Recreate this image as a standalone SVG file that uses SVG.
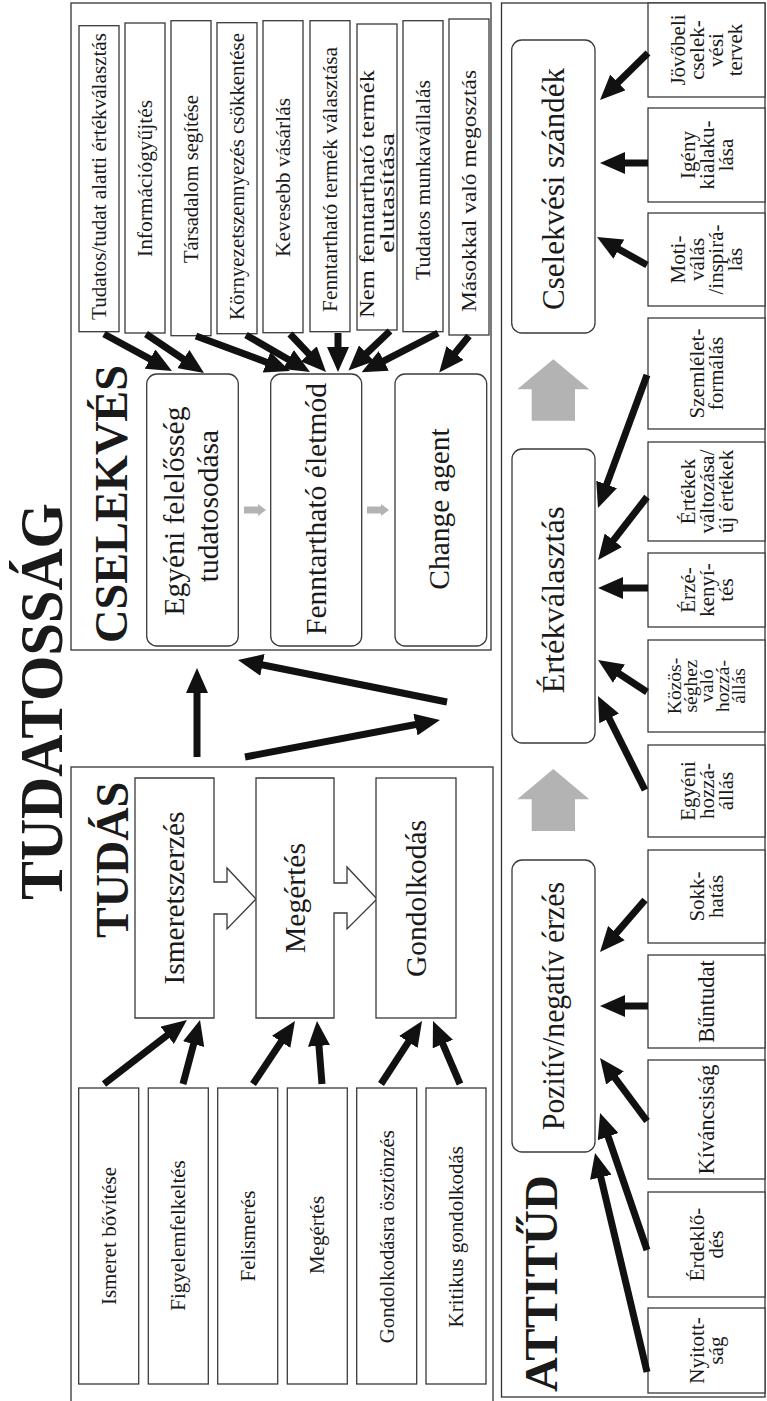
<svg xmlns="http://www.w3.org/2000/svg" width="767" height="1401" viewBox="0 0 767 1401">
<defs>
<marker id="ah" markerUnits="userSpaceOnUse" viewBox="0 0 25 22" markerWidth="25" markerHeight="22" refX="7" refY="11" orient="auto"><path d="M0,0 L25,11 L0,22 Z" fill="#111"/></marker>
</defs>
<style>
.panel{fill:none;stroke:#333;stroke-width:1.3}
.box{fill:#fff;stroke:#3a3a3a;stroke-width:1.3}
text{font-family:"Liberation Serif","Times New Roman",serif;fill:#1a1a1a;text-anchor:middle}
.s{font-size:21px}
.r{font-size:21px}
.r5{font-size:19.5px}
.m{font-size:29.5px}
.b{font-size:31px}
.h{font-size:47px;font-weight:bold}
.t{font-size:62px;font-weight:bold}
.arr line{stroke:#111;stroke-width:7;marker-end:url(#ah)}
.gray{fill:#b3b3b3}
</style>
<rect x="0" y="0" width="767" height="1401" fill="#fff"/>

<g id="title"><text class="t" transform="translate(62,701.5) rotate(-90)" textLength="397" lengthAdjust="spacingAndGlyphs">TUDATOSSÁG</text></g>

<g id="panels">
<rect class="panel" x="71" y="3" width="420" height="647"/>
<rect class="panel" x="71" y="767" width="422" height="640"/>
<rect class="panel" x="501.5" y="3" width="263.5" height="1394"/>
</g>

<g id="cselekves">
<text class="h" transform="translate(127,504) rotate(-90)" textLength="278" lengthAdjust="spacingAndGlyphs">CSELEKVÉS</text>
<g id="c1"><rect class="box" x="79" y="25.7" width="40" height="306"/><text class="s" transform="translate(105.7,176.5) rotate(-90)" textLength="287" lengthAdjust="spacingAndGlyphs">Tudatos/tudat alatti értékválasztás</text></g>
<g id="c2"><rect class="box" x="125" y="23" width="40" height="310"/><text class="s" transform="translate(152,178.5) rotate(-90)" textLength="157" lengthAdjust="spacingAndGlyphs">Információgyűjtés</text></g>
<g id="c3"><rect class="box" x="171" y="20.7" width="40" height="315"/><text class="s" transform="translate(198,179) rotate(-90)" textLength="168" lengthAdjust="spacingAndGlyphs">Társadalom segítése</text></g>
<g id="c4"><rect class="box" x="217" y="22.7" width="40" height="311"/><text class="s" transform="translate(244,176.5) rotate(-90)" textLength="287" lengthAdjust="spacingAndGlyphs">Környezetszennyezés csökkentése</text></g>
<g id="c5"><rect class="box" x="263" y="20.7" width="40" height="312"/><text class="s" transform="translate(290,177.5) rotate(-90)" textLength="159" lengthAdjust="spacingAndGlyphs">Kevesebb vásárlás</text></g>
<g id="c6"><rect class="box" x="310" y="20.7" width="40" height="311"/><text class="s" transform="translate(337,179.5) rotate(-90)" textLength="265" lengthAdjust="spacingAndGlyphs">Fenntartható termék választása</text></g>
<g id="c7"><rect class="box" x="357" y="24" width="40" height="306"/><text class="s" transform="translate(373.5,194) rotate(-90)" textLength="248" lengthAdjust="spacingAndGlyphs">Nem fenntartható termék</text><text class="s" transform="translate(393.5,193) rotate(-90)" textLength="120" lengthAdjust="spacingAndGlyphs">elutasítása</text></g>
<g id="c8"><rect class="box" x="403" y="20.7" width="40" height="311"/><text class="s" transform="translate(430,180) rotate(-90)" textLength="200" lengthAdjust="spacingAndGlyphs">Tudatos munkavállalás</text></g>
<g id="c9"><rect class="box" x="449" y="19" width="40" height="316"/><text class="s" transform="translate(476,191) rotate(-90)" textLength="242" lengthAdjust="spacingAndGlyphs">Másokkal való megosztás</text></g>
<g id="egyeni"><rect class="box" x="146.7" y="374" width="91.6" height="272" rx="10"/><text class="m" transform="translate(184,511) rotate(-90)">Egyéni felelősség</text><text class="m" transform="translate(218,506) rotate(-90)">tudatosodása</text></g>
<g id="fenntarthato"><rect class="box" x="270.7" y="374" width="91" height="272" rx="10"/><text class="m" transform="translate(326,509) rotate(-90)" textLength="252" lengthAdjust="spacingAndGlyphs">Fenntartható életmód</text></g>
<g id="change"><rect class="box" x="395" y="374" width="91.7" height="272" rx="10"/><text class="m" transform="translate(449,509) rotate(-90)">Change agent</text></g>
<path class="gray" d="M244,506.5 H258 V504 L266,510 L258,516 V513.5 H244 Z"/>
<path class="gray" d="M367,506.5 H381 V504 L389,510 L381,516 V513.5 H367 Z"/>
</g>

<g id="tudas">
<text class="h" transform="translate(128,860) rotate(-90)" textLength="156" lengthAdjust="spacingAndGlyphs">TUDÁS</text>
<g id="ismeretszerzes"><path class="box" d="M135,778 H214 V882 H227 V868 L256,899 L227,929 V914 H214 V1018 H135 Z"/><text class="m" transform="translate(184,898) rotate(-90)" textLength="173" lengthAdjust="spacingAndGlyphs">Ismeretszerzés</text></g>
<g id="megertes"><path class="box" d="M256,778 H334 V883 H347 V867 L377,899 L347,929 V913 H334 V1018 H256 Z"/><text class="m" transform="translate(304.5,898) rotate(-90)" textLength="110" lengthAdjust="spacingAndGlyphs">Megértés</text></g>
<g id="gondolkodas"><rect class="box" x="376" y="778" width="80" height="240"/><text class="m" transform="translate(425.5,898.5) rotate(-90)" textLength="157" lengthAdjust="spacingAndGlyphs">Gondolkodás</text></g>
<g id="t1"><rect class="box" x="78.7" y="1088" width="60" height="296"/><text class="s" transform="translate(115.7,1236) rotate(-90)">Ismeret bővítése</text></g>
<g id="t2"><rect class="box" x="148.3" y="1088" width="60" height="296"/><text class="s" transform="translate(185.3,1235.5) rotate(-90)">Figyelemfelkeltés</text></g>
<g id="t3"><rect class="box" x="217.7" y="1088" width="60" height="296"/><text class="s" transform="translate(254.7,1236) rotate(-90)">Felismerés</text></g>
<g id="t4"><rect class="box" x="287.3" y="1088" width="60" height="296"/><text class="s" transform="translate(324.3,1235) rotate(-90)">Megértés</text></g>
<g id="t5"><rect class="box" x="356.7" y="1088" width="60" height="296"/><text class="s" transform="translate(393.7,1236.7) rotate(-90)" textLength="213" lengthAdjust="spacingAndGlyphs">Gondolkodásra ösztönzés</text></g>
<g id="t6"><rect class="box" x="426" y="1088" width="60" height="296"/><text class="s" transform="translate(463,1236.7) rotate(-90)">Kritikus gondolkodás</text></g>
</g>

<g id="attitud">
<text class="h" transform="translate(557,1283.5) rotate(-90)" textLength="217" lengthAdjust="spacingAndGlyphs">ATTITŰD</text>
<g id="szandek"><rect class="box" x="511.7" y="40" width="83.3" height="293" rx="10"/><text class="b" transform="translate(564,189) rotate(-90)" textLength="242" lengthAdjust="spacingAndGlyphs">Cselekvési szándék</text></g>
<g id="ertekvalasztas"><rect class="box" x="512" y="449" width="83" height="294" rx="10"/><text class="b" transform="translate(564,600) rotate(-90)" textLength="187" lengthAdjust="spacingAndGlyphs">Értékválasztás</text></g>
<g id="pozitiv"><rect class="box" x="512" y="860" width="83" height="292" rx="10"/><text class="b" transform="translate(564,1006) rotate(-90)" textLength="248" lengthAdjust="spacingAndGlyphs">Pozitív/negatív érzés</text></g>
<path class="gray" d="M553.3,359.3 L589.3,389.3 H575 V420.7 H531.7 V389.3 H517.3 Z"/>
<path class="gray" d="M553.3,769 L589.3,799.3 H575 V831 H531.7 V799.3 H517.3 Z"/>

<g id="a1"><rect class="box" x="648" y="3" width="117" height="94"/><text class="r" transform="translate(706.5,50) rotate(-90)"><tspan x="0" y="-21.5">Jövőbeli</tspan><tspan x="0" y="-2.5">cselek-</tspan><tspan x="0" y="16.5">vési</tspan><tspan x="0" y="35.5">tervek</tspan></text></g>
<g id="a2"><rect class="box" x="648" y="108" width="117" height="94"/><text class="r" transform="translate(706.5,155) rotate(-90)"><tspan x="0" y="-12">Igény</tspan><tspan x="0" y="7">kialaku-</tspan><tspan x="0" y="26">lása</tspan></text></g>
<g id="a3"><rect class="box" x="648" y="213" width="117" height="93"/><text class="r" transform="translate(706.5,259.5) rotate(-90)"><tspan x="0" y="-21.5">Moti-</tspan><tspan x="0" y="-2.5">válás</tspan><tspan x="0" y="16.5">/inspirá-</tspan><tspan x="0" y="35.5">lás</tspan></text></g>
<g id="a4"><rect class="box" x="648" y="318" width="117" height="111"/><text class="r" transform="translate(706.5,373.5) rotate(-90)"><tspan x="0" y="-2.5">Szemlélet-</tspan><tspan x="0" y="16.5">formálás</tspan></text></g>
<g id="a5"><rect class="box" x="648" y="442" width="117" height="99"/><text class="r" transform="translate(706.5,491.5) rotate(-90)"><tspan x="0" y="-12">Értékek</tspan><tspan x="0" y="7">változása/</tspan><tspan x="0" y="26">új értékek</tspan></text></g>
<g id="a6"><rect class="box" x="648" y="553" width="117" height="74"/><text class="r" transform="translate(706.5,590) rotate(-90)"><tspan x="0" y="-12">Érzé-</tspan><tspan x="0" y="7">kenyí-</tspan><tspan x="0" y="26">tés</tspan></text></g>
<g id="a7"><rect class="box" x="648" y="640" width="117" height="92"/><text class="r5" transform="translate(706.5,686) rotate(-90)"><tspan x="0" y="-26">Közös-</tspan><tspan x="0" y="-10">séghez</tspan><tspan x="0" y="6">való</tspan><tspan x="0" y="22">hozzá-</tspan><tspan x="0" y="38">állás</tspan></text></g>
<g id="a8"><rect class="box" x="648" y="745" width="117" height="92"/><text class="r" transform="translate(706.5,791) rotate(-90)"><tspan x="0" y="-12">Egyéni</tspan><tspan x="0" y="7">hozzá-</tspan><tspan x="0" y="26">állás</tspan></text></g>
<g id="a9"><rect class="box" x="648" y="850" width="117" height="93"/><text class="r" transform="translate(706.5,896.5) rotate(-90)"><tspan x="0" y="-2.5">Sokk-</tspan><tspan x="0" y="16.5">hatás</tspan></text></g>
<g id="a10"><rect class="box" x="648" y="955" width="117" height="93"/><text class="r" transform="translate(706.5,1001.5) rotate(-90)" style="font-size:22.5px"><tspan x="0" y="7.5">Bűntudat</tspan></text></g>
<g id="a11"><rect class="box" x="648" y="1060" width="117" height="119"/><text class="r" transform="translate(706.5,1119.5) rotate(-90)" style="font-size:22.5px"><tspan x="0" y="7.5">Kíváncsiság</tspan></text></g>
<g id="a12"><rect class="box" x="648" y="1192" width="117" height="105"/><text class="r" transform="translate(706.5,1244.5) rotate(-90)"><tspan x="0" y="-2.5">Érdeklő-</tspan><tspan x="0" y="16.5">dés</tspan></text></g>
<g id="a13"><rect class="box" x="648" y="1308" width="117" height="85"/><text class="r" transform="translate(706.5,1350.5) rotate(-90)"><tspan x="0" y="-2.5">Nyitott-</tspan><tspan x="0" y="16.5">ság</tspan></text></g>
</g>

<g id="connectors" class="arr">
<line x1="648" y1="53" x2="612.9" y2="87.4"/>
<line x1="648" y1="163" x2="618" y2="163"/>
<line x1="647" y1="265" x2="612.7" y2="245.8"/>
<line x1="647" y1="375" x2="604.2" y2="491.1"/>
<line x1="647" y1="497" x2="609.1" y2="545.8"/>
<line x1="648" y1="588" x2="616" y2="588"/>
<line x1="647" y1="692" x2="613.1" y2="669.8"/>
<line x1="645" y1="790" x2="606" y2="712.1"/>
<line x1="645" y1="900" x2="611.8" y2="938.4"/>
<line x1="648" y1="1006" x2="618" y2="1006"/>
<line x1="647" y1="1121" x2="610.8" y2="1072.4"/>
<line x1="647" y1="1250" x2="605.9" y2="1130"/>
<line x1="647" y1="1372" x2="599.2" y2="1170.5"/>
<line x1="104" y1="1084" x2="172.7" y2="1031"/>
<line x1="183" y1="1084" x2="195.4" y2="1037.4"/>
<line x1="253" y1="1084" x2="285" y2="1036"/>
<line x1="322" y1="1084" x2="318.4" y2="1038.9"/>
<line x1="381" y1="1084" x2="412.2" y2="1036.1"/>
<line x1="460" y1="1084" x2="440.1" y2="1037.6"/>
<line x1="197" y1="757" x2="197" y2="686"/>
<line x1="245" y1="757" x2="422.3" y2="723.3"/>
<line x1="447" y1="702" x2="255.6" y2="663.5"/>
<line x1="104" y1="334" x2="156.2" y2="362.4"/>
<line x1="146" y1="334" x2="189.1" y2="363"/>
<line x1="196" y1="336" x2="273.1" y2="364.7"/>
<line x1="246" y1="335" x2="294.4" y2="363"/>
<line x1="290" y1="334" x2="313.6" y2="358.9"/>
<line x1="338" y1="333" x2="338" y2="354"/>
<line x1="390" y1="331" x2="361.5" y2="358.1"/>
<line x1="438" y1="333" x2="377.6" y2="364.1"/>
<line x1="469" y1="336" x2="450.6" y2="358.5"/>
</g>
</svg>
